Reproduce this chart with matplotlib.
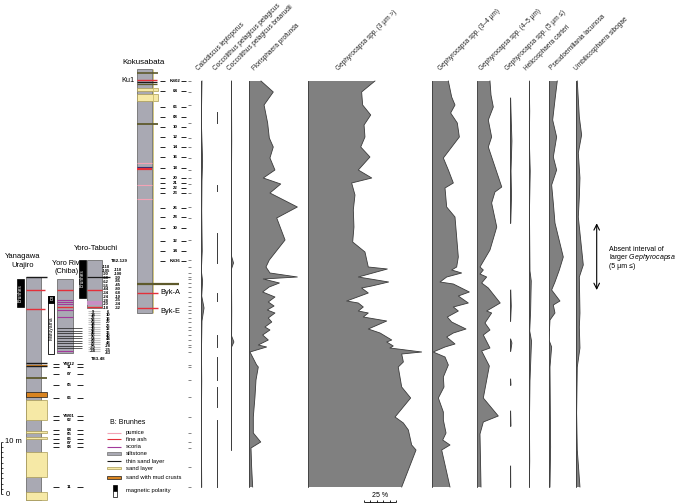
import matplotlib.pyplot as plt
from matplotlib.patches import Rectangle
import numpy as np

plt.rcParams['font.family'] = ['Liberation Sans', 'DejaVu Sans']
plt.rcParams['mathtext.fontset'] = 'custom'
plt.rcParams['mathtext.rm'] = 'Liberation Sans'
plt.rcParams['mathtext.it'] = 'Liberation Sans:italic'

NAN = np.nan

# ---------------- abundance data (composite level from top, value in %) ----------------
calc_lev = [0, 40, 80, 100, 130, 170, 190, 200, 215, 227, 240, 270, 300, 350, 406]
calc_val = [1, 0.5, 1.5, 1, 0.8, 1.2, 0.5, 1.5, 0.8, 2.6, 1, 0.6, 0.8, 0.5, 0.8]

pel_lev = [31, 42, 50, 104, 110, 120, 152, 182, 195, 212, 220, 235, 254, 266, 270, 276, 299, 302, 306, 326, 332, 339, 406]
pel_val = [0.4, 0.4, NAN, 0.4, 0.4, NAN, 0.4, 0.4, NAN, 0.4, 0.4, NAN, 0.4, 0.4, NAN, 0.4, 0.4, NAN, 0.4, 0.4, NAN, 0.4, 0.4]

braa_lev = [0, 60, 120, 175, 182, 188, 230, 255, 261, 266, 320, 369]
braa_val = [0.6, 0.8, 0.5, 0.6, 2.2, 0.6, 0.8, 0.7, 2.5, 0.7, 0.6, 0.5]

flor_lev = [0, 11, 24, 42, 57, 66, 77, 89, 97, 103, 112, 126, 137, 159, 179, 186, 192, 196, 198, 202,
            206, 211, 216, 221, 225, 229, 232, 237, 241, 246, 249, 254, 259, 264, 266, 271, 284, 286, 299, 316,
            336, 352, 361, 367, 386, 406]
flor_val = [9.6, 19.2, 12, 14.8, 16.1, 19.2, 16.6, 20.5, 11.4, 25, 16.6, 38, 21.9, 28.4, 16.1, 13.5, 16.6, 38, 11.4, 24,
            16, 10.9, 20.5, 15.3, 19.8, 14.5, 20.5, 15.3, 18, 12.7, 16.6, 10.9, 15.3, 7.5, 14, 1, 6.2, 7.5, 5.7, 4.9,
            3.6, 3.6, 9.4, 1.8, 2.3, 3.1]

g3_lev = [0, 11, 24, 34, 44, 56, 66, 76, 89, 97, 102, 114, 129, 146, 161, 171, 186, 188, 196, 201,
          205, 207, 212, 220, 222, 226, 230, 232, 236, 240, 248, 252, 259, 261, 265, 267, 271, 273, 281, 286,
          306, 317, 336, 342, 349, 364, 369, 406]
g3_val = [52.3, 41.9, 42.7, 49, 43.8, 44.5, 41.2, 48.4, 39.3, 49.8, 34.1, 36.7, 35.4, 35.9, 34.9, 44.5, 47.1, 62, 39.3, 63,
          49.8, 41.9, 47.1, 30.2, 39.3, 43.2, 39.3, 47.1, 43.2, 61.5, 47.1, 56.3, 65.4, 61.5, 66.6, 64, 88.8, 73.2, 74.5, 70.5,
          73.2, 80.2, 68, 74.5, 78.4, 81, 84.4, 73.2]

g34_lev = [0, 16, 24, 32, 42, 56, 77, 89, 102, 107, 126, 136, 176, 186, 189, 192, 196, 201, 203, 211,
           215, 222, 226, 230, 236, 241, 248, 252, 256, 263, 266, 271, 276, 284, 296, 306, 317, 331, 339, 352,
           359, 364, 369, 406]
g34_val = [13, 15.6, 18.2, 14.8, 20, 21.6, 9.1, 13, 16.9, 10.4, 11.7, 18.2, 20.8, 19.5, 15.6, 23.4, 11.7, 6.5, 16.9, 29.4,
           20.8, 28.6, 16.9, 20.8, 12.2, 15.6, 26.8, 16.9, 11.7, 18.2, 10.4, 1.2, 10.4, 13, 9.1, 9.6, 5.2, 9.1, 9.1, 11.2,
           8.6, 14.3, 7.8, 14.3]

g45_lev = [0, 14, 26, 39, 56, 66, 106, 111, 122, 146, 169, 186, 189, 193, 196, 202, 207, 222, 230, 232,
           242, 249, 254, 267, 270, 285, 317, 335, 341, 353, 406]
g45_val = [9.9, 10.7, 12.5, 8.6, 11.2, 8.6, 19.1, 13.8, 11.2, 15.2, 9.9, 2.1, 4.7, 2.1, 7.3, 3.4, 8.6, 17.9, 7.3, 11.2,
           6, 9.9, 4.7, 9.9, 3.4, 9.4, 4.7, 16.4, 4.7, 2.1, 2.9]

g5_lev = [17, 40, 60, 90, 115, 142, 150, 209, 225, 240, 250, 258, 262, 270, 290, 298, 304, 320, 330, 345, 352, 385, 406]
g5_val = [0.5, 1, 1.5, 0.8, 1.2, 0.6, NAN, 0.6, 1, 0.5, NAN, 0.5, 1.5, 0.6, NAN, 0.5, 0.8, NAN, 0.5, 0.8, NAN, 0.5, 0.6]

heli_lev = [0, 30, 60, 90, 130, 160, 190, 200, 230, 250, 260, 300, 340, 380, 406]
heli_val = [0.4, 0.8, 0.5, 1.2, 0.6, 0.8, 1, 2, 1.5, 0.8, 2.2, 1, 0.6, 0.8, 0.5]

pseu_lev = [0, 19, 39, 56, 76, 89, 104, 122, 142, 176, 189, 201, 209, 220, 224, 232, 239, 259, 266, 286, 366, 406]
pseu_val = [6.7, 4.9, 3.1, 6.2, 3.6, 6.2, 2.3, 3.6, 4.9, 11.4, 8.3, 4.9, 2.3, 8.8, 3.6, 4.9, 1, 0.2, 2.3, 1, 1.5, 1]

umbi_lev = [0, 36, 54, 72, 97, 116, 136, 184, 196, 232, 246, 267, 286, 332, 369, 406]
umbi_val = [1, 2.6, 4.4, 1.8, 3.1, 2.6, 1.8, 5.7, 2.6, 3.1, 2.6, 3.1, 1, 0.5, 1, 3.1]

taxa = ['Calcidiscus leptoporus', 'Coccolithus pelagicus pelagicus', 'Coccolithus pelagicus braarudii',
        'Florisphaera profunda', 'Gephyrocapsa spp. (3 µm >)', 'Gephyrocapsa spp. (3–4 µm)',
        'Gephyrocapsa spp. (4–5 µm)', 'Gephyrocapsa spp. (5 µm ≤)', 'Helicosphaera carteri',
        'Pseudoemiliania lacunosa', 'Umbilicosphaera sibogae']
series = [(calc_lev, calc_val), (pel_lev, pel_val), (braa_lev, braa_val), (flor_lev, flor_val),
          (g3_lev, g3_val), (g34_lev, g34_val), (g45_lev, g45_val), (g5_lev, g5_val),
          (heli_lev, heli_val), (pseu_lev, pseu_val), (umbi_lev, umbi_val)]

# sample labels of the sections
ks_labels = ['KS02', '04', '06', '08', '10', '12', '14', '16', '18', '20', '21', '22', '23', '26', '28', '30', '32', '34', 'KS36']
ks_levels = [0, 10, 25.7, 35.7, 46, 56, 65.7, 76, 87.3, 97.3, 102, 106.7, 112.3, 126.7, 136, 146.7, 159.7, 170, 180]
yw_labels = ['YW12', '11', '07', '05', '06', 'YW01', '02', '04', '05', '06', '07', '08', '11']
yw_levels = [283, 286.3, 293, 304.3, 317.3, 335.3, 339, 349.3, 353.3, 357.7, 362, 365.7, 406.3]
tb2_left = ['-118', '-105', '-90', '-68', '-62', '-56', '-44', '-34', '-24', '-28', '-20', '-18']
tb2_right = ['-110', '-100', '-90', '-85', '-45', '-80', '-68', '-10', '-35', '-34', '-32']
tb3_left = ['9', '14', '22', '28', '34', '38', '42', '46', '50', '54', '58', '62', '-32', '-38']
tb3_right = ['6', '10', '16', '20', '26', '32', '36', '40', '44', '48', '-28', '-35', '-43']

C = dict(silt='#a9a9b3', edge='#6f6f6f', red='#e3303a', pink='#f3a3b5', purple='#a3399a',
         olive='#5e5a2c', black='#1a1a1a', sand='#f6e9a6', sand_edge='#a99b55', orange='#d98420',
         blue='#2a2f7a', fill='#808080', line='#3a3a3a')

W, H = 685, 504
TOP, BOT = -81, 423   # composite level at top / bottom of the figure

fig = plt.figure(figsize=(6.85, 5.04), dpi=100)
ax = fig.add_axes([0, 0, 1, 1])
ax.set_xlim(0, W)
ax.set_ylim(BOT, TOP)
ax.axis('off')


def panel(left_px):
    a = fig.add_axes([left_px / W, 0, 128 / W, 1])
    a.set_xlim(0, 100)
    a.set_ylim(BOT, TOP)
    a.axis('off')
    a.patch.set_alpha(0)
    return a


def hl(lev, x0, x1, c, lw=0.8):
    ax.hlines(lev, x0, x1, colors=C[c], lw=lw)


def band(top, bot, x0, x1, c, ec=None):
    ax.add_patch(Rectangle((x0, top), x1 - x0, bot - top, fc=C[c], ec=C[ec or 'sand_edge'], lw=0.5))


# ---------------- abundance panels ----------------
panel_left = [200.7, 216.7, 230.7, 248.7, 308, 431.7, 477.3, 510, 528.7, 548.7, 576]
label_x = [200, 216.7, 230.7, 256, 340, 441.7, 483.3, 509.3, 528.3, 553.3, 578.3]

for (lev, val), left, lx, name in zip(series, panel_left, label_x, taxa):
    a = panel(left)
    lev = np.array(lev, float)
    val = np.array(val, float)
    a.fill_betweenx(lev, 0, val, facecolor=C['fill'], edgecolor='none')
    a.plot(val, lev, color=C['line'], lw=0.6)
    a.plot(np.where(np.isnan(val), np.nan, 0), lev, color=C['line'], lw=0.6)
    ax.text(lx, -9.5, name, rotation=45, rotation_mode='anchor', ha='left', va='bottom',
            fontsize=4.7, color='#222222')

# sample ticks at the left of the panels
ax.hlines(flor_lev, 188, 191, colors='#555555', lw=0.5)

# 25 % scale bar
sa = panel(364)
sa.hlines(420.7, 0, 25, colors='k', lw=0.6)
sa.vlines(np.arange(0, 26, 5), 418.7, 420.7, colors='k', lw=0.6)
sa.text(12.5, 414, '25 %', ha='center', va='center', fontsize=5)

# absent interval arrow
ax.annotate('', xy=(596.7, 142.3), xytext=(596.7, 209),
            arrowprops=dict(arrowstyle='<->', lw=0.8, color='k', shrinkA=0, shrinkB=0))
ax.text(609, 168, 'Absent interval of', fontsize=5, va='center')
ax.text(609, 176.7, r'larger $\mathit{Gephyrocapsa}$', fontsize=5, va='center')
ax.text(609, 185.7, '(5 µm ≤)', fontsize=5, va='center')

# ---------------- Kokusabata ----------------
ax.add_patch(Rectangle((137.3, -11.7), 15, 244, fc=C['silt'], ec=C['edge'], lw=0.6))
ax.vlines(153, -11.7, 232.3, colors='#cbbd6a', lw=0.6)
band(7.3, 9.7, 137.3, 158, 'sand')
band(13.3, 19.7, 137.3, 158, 'sand')
for lev, c, x1, lw in [(-8.3, 'olive', 158, 1.2), (-1, 'red', 157, 1.0), (0.8, 'black', 157, 0.9),
                       (2.5, 'olive', 157, 0.9), (43.3, 'olive', 158, 1.3), (81.7, 'pink', 152.3, 0.8),
                       (85.7, 'blue', 152.3, 0.8), (87.6, 'red', 152.3, 1.6), (104, 'pink', 152.3, 0.8),
                       (118.3, 'pink', 152.3, 0.8), (202.7, 'olive', 179, 1.6), (212.3, 'red', 158, 1.0),
                       (227.3, 'red', 158, 1.0)]:
    hl(lev, 137.3, x1, c, lw)
ax.text(144, -19, 'Kokusabata', ha='center', va='center', fontsize=5.8)
ax.text(135, -1, 'Ku1', ha='right', va='center', fontsize=5.3)
ax.text(160, 211.7, 'Byk-A', ha='left', va='center', fontsize=5.3)
ax.text(160, 230, 'Byk-E', ha='left', va='center', fontsize=5.3)
ax.hlines(ks_levels, 160.5, 165.5, colors='#222222', lw=0.7)
ax.hlines(ks_levels, 181.5, 186.5, colors='#222222', lw=0.7)
for lab, lev in zip(ks_labels, ks_levels):
    ax.text(175.5, lev, lab, ha='center', va='center', fontsize=3.2, weight='bold')

# ---------------- Yanagawa Urajiro ----------------
ax.add_patch(Rectangle((26, 196.3), 14.7, 222.7, fc=C['silt'], ec=C['edge'], lw=0.6))
band(311.3, 316.3, 26, 46.7, 'orange', 'black')
band(319, 339, 26, 46.7, 'sand')
band(349.7, 352.3, 26, 46.7, 'sand')
band(356.3, 358.3, 26, 46.7, 'sand')
band(370.7, 395.7, 26, 46.7, 'sand')
band(410.7, 419, 26, 46.7, 'sand')
for lev, c, x1, lw in [(196.3, 'black', 46.7, 1.0), (209, 'red', 45, 1.0), (228, 'red', 45, 1.0),
                       (282.2, 'black', 46.7, 1.0), (283.5, 'orange', 46.7, 0.8), (284.8, 'black', 46.7, 1.0),
                       (297.3, 'olive', 46.7, 1.3)]:
    hl(lev, 26, x1, c, lw)
ax.add_patch(Rectangle((16.7, 198.3), 7.3, 27.4, fc='k', ec='k', lw=0.5))
ax.text(20.35, 212, 'Brunhes', rotation=90, ha='center', va='center', fontsize=3.4, color='w')
ax.text(22.5, 175.7, 'Yanagawa', ha='center', va='center', fontsize=5.5)
ax.text(22.5, 184, 'Urajiro', ha='center', va='center', fontsize=5.5)
ax.hlines(yw_levels, 53, 59, colors='#222222', lw=0.7)
ax.hlines(yw_levels, 77, 83, colors='#222222', lw=0.7)
for lab, lev in zip(yw_labels, yw_levels):
    ax.text(69, lev, lab, ha='center', va='center', fontsize=3.2, weight='bold')

# 10 m scale
scale_m = np.arange(0, 11)
ax.vlines(1, 360.7, 413, colors='k', lw=0.6)
ax.hlines(413 - scale_m * 5.23, 1, 3, colors='k', lw=0.5)
ax.text(5, 360.7, '10 m', va='center', fontsize=5.5)
ax.text(6, 413, '0', va='center', fontsize=5.5)

# ---------------- Yoro Riv. (Chiba) ----------------
yoro_sand_lines = [247, 249.5, 252, 254.5, 257, 259.5, 262, 264.5, 267]
ax.add_patch(Rectangle((57.3, 198.3), 15.4, 74, fc=C['silt'], ec=C['edge'], lw=0.6))
hl(209, 57.3, 72.7, 'red', 1.0)
hl(226.3, 57.3, 72.7, 'red', 1.0)
for lev in [219, 221.3, 223.3, 229, 235.7, 270]:
    hl(lev, 57.3, 72.7, 'purple', 0.8)
ax.hlines(yoro_sand_lines, 57.3, 81.7, colors=C['black'], lw=0.5)
ax.add_patch(Rectangle((48.3, 215), 6, 58, fc='w', ec='k', lw=0.6))
ax.add_patch(Rectangle((48.3, 215), 6, 7, fc='k', ec='k', lw=0.6))
ax.text(51.3, 218.5, 'B', ha='center', va='center', fontsize=3.5, color='w')
ax.text(51.3, 247, 'Matuyama', rotation=90, ha='center', va='center', fontsize=3.6)
ax.text(67, 182, 'Yoro Riv.', ha='center', va='center', fontsize=5.3)
ax.text(67, 190.7, '(Chiba)', ha='center', va='center', fontsize=5.3)

# ---------------- Yoro-Tabuchi ----------------
ax.add_patch(Rectangle((79, 179), 7, 38.3, fc='k', ec='k', lw=0.5))
ax.text(82.5, 197, 'Brunhes', rotation=90, ha='center', va='center', fontsize=3.4, color='w')
ax.add_patch(Rectangle((87.3, 179), 14.4, 48.3, fc=C['silt'], ec=C['edge'], lw=0.6))
ax.add_patch(Rectangle((87.3, 219.7), 14.4, 4.3, fc='#c78fc4', ec='none'))
hl(196.3, 87.3, 110, 'black', 0.9)
hl(209, 87.3, 101.7, 'red', 1.0)
hl(225.7, 87.3, 101.7, 'red', 1.0)
ax.hlines(np.linspace(230, 270, 19), 88, 100, colors='#c4c4c4', lw=0.8)
ax.text(96, 167, 'Yoro-Tabuchi', ha='center', va='center', fontsize=5.5)
ax.text(119, 180, 'TB2-129', ha='center', va='center', fontsize=3.2, weight='bold')
for lab, lev in zip(tb2_left, np.linspace(186, 227, len(tb2_left))):
    ax.text(106, lev, lab, ha='center', va='center', fontsize=3, weight='bold')
for lab, lev in zip(tb2_right, np.linspace(189, 227, len(tb2_right))):
    ax.text(118, lev, lab, ha='center', va='center', fontsize=3, weight='bold')
for lab, lev in zip(tb3_left, np.linspace(231, 270, len(tb3_left))):
    ax.text(93, lev, lab, ha='center', va='center', fontsize=3, weight='bold')
for lab, lev in zip(tb3_right, np.linspace(231, 272, len(tb3_right))):
    ax.text(108, lev, lab, ha='center', va='center', fontsize=3, weight='bold')
ax.text(98, 278, 'TB3-48', ha='center', va='center', fontsize=3.2, weight='bold')

# ---------------- legend ----------------
ax.text(110, 341.3, 'B: Brunhes', va='center', fontsize=5)
leg_lines = [('pumice', 'pink', 351.7), ('fine ash', 'red', 358.3), ('scoria', 'purple', 365.7),
             ('thin sand layer', 'black', 380)]
for lab, c, lev in leg_lines:
    hl(lev, 107, 121, c, 0.8)
    ax.text(126, lev, lab, va='center', fontsize=4.2)
band(370.7, 374.3, 107, 121, 'silt', 'edge')
ax.text(126, 372.5, 'siltstone', va='center', fontsize=4.2)
band(386, 388, 107, 121, 'sand')
ax.text(126, 387, 'sand layer', va='center', fontsize=4.2)
band(394.5, 398, 107, 121, 'orange', 'black')
ax.text(126, 396.3, 'sand with mud crusts', va='center', fontsize=4.2)
ax.add_patch(Rectangle((113, 404), 4, 6, fc='k', ec='k', lw=0.5))
ax.add_patch(Rectangle((113, 410), 4, 5.7, fc='w', ec='k', lw=0.5))
ax.text(126, 409.7, 'magnetic polarity', va='center', fontsize=4.2)

plt.savefig('out.png', dpi=100)
